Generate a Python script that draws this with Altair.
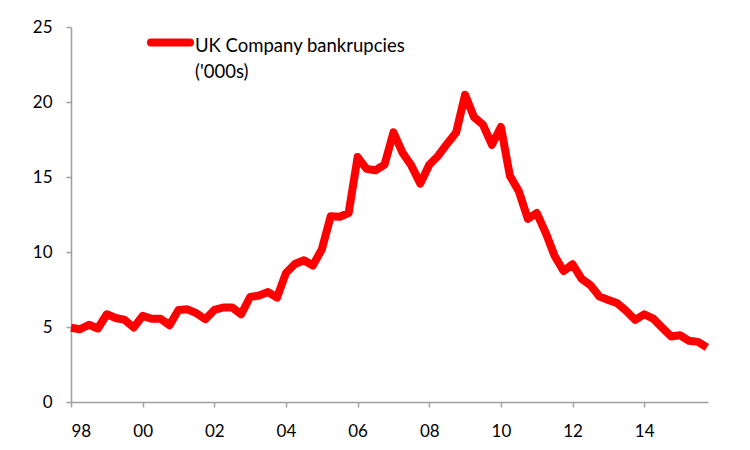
import altair as alt
import pandas as pd

start_year = 1998
values = [4.95, 4.85, 5.15, 4.9, 5.85, 5.6, 5.47, 4.97,
          5.74, 5.55, 5.55, 5.12, 6.14, 6.18, 5.92, 5.52,
          6.14, 6.3, 6.3, 5.85, 7.0, 7.1, 7.33, 6.96,
          8.6, 9.2, 9.45, 9.1, 10.17, 12.39, 12.35, 12.6,
          16.33, 15.54, 15.45, 15.82, 17.97, 16.64, 15.76, 14.56,
          15.82, 16.42, 17.22, 17.97, 20.48, 18.99, 18.48, 17.15,
          18.33, 15.08, 14.05, 12.21, 12.6, 11.28, 9.73, 8.73,
          9.18, 8.22, 7.78, 7.03, 6.8, 6.58, 6.07, 5.47,
          5.85, 5.56, 4.96, 4.37, 4.45, 4.08, 4.01, 3.64]
tick_years = [1998, 2000, 2002, 2004, 2006, 2008, 2010, 2012, 2014]
y_ticks = [0, 5, 10, 15, 20, 25]
legend_lines = ["UK Company bankrupcies", "('000s)"]

df = pd.DataFrame({
    "t": [start_year + i / 4 for i in range(len(values))],
    "v": values,
})

FONT = "Lato"
GRAY = "#a0a0a0"

line = alt.Chart(df).mark_line(
    color="#ff0000", strokeWidth=8, strokeJoin="round", strokeCap="butt"
).encode(
    x=alt.X("t:Q", scale=alt.Scale(domain=[1998, 2015.78], nice=False, zero=False),
            axis=alt.Axis(values=tick_years, labelExpr="substring(toString(datum.value), 2, 4)",
                          title=None, grid=False, domainColor=GRAY, tickColor=GRAY,
                          domainWidth=1.5, tickWidth=1.5, tickSize=5, labelPadding=16,
                          labelFont=FONT, labelFontSize=17, labelColor="#000000")),
    y=alt.Y("v:Q", scale=alt.Scale(domain=[0, 25], nice=False),
            axis=alt.Axis(values=y_ticks, title=None, grid=False, domainColor=GRAY,
                          tickColor=GRAY, domainWidth=1.5, tickWidth=1.5, tickSize=5,
                          labelPadding=14, labelFont=FONT, labelFontSize=17,
                          labelColor="#000000")),
)

leg_line = alt.Chart().mark_rule(color="#ff0000", strokeWidth=8, strokeCap="round").encode(
    x=alt.value(80), x2=alt.value(119), y=alt.value(15.6)
)
leg_text = alt.Chart().mark_text(
    text=legend_lines, align="left", baseline="alphabetic", font=FONT, fontSize=18.5,
    lineHeight=26, color="#000000"
).encode(x=alt.value(124), y=alt.value(25))

chart = alt.layer(line, leg_line, leg_text).properties(
    width=637, height=375,
    autosize=alt.AutoSizeParams(type="none"),
    padding={"left": 63, "top": 19, "right": 34, "bottom": 40},
).configure_view(stroke=None)

chart.save("out.html", embed_options={"renderer": "svg", "actions": False})
